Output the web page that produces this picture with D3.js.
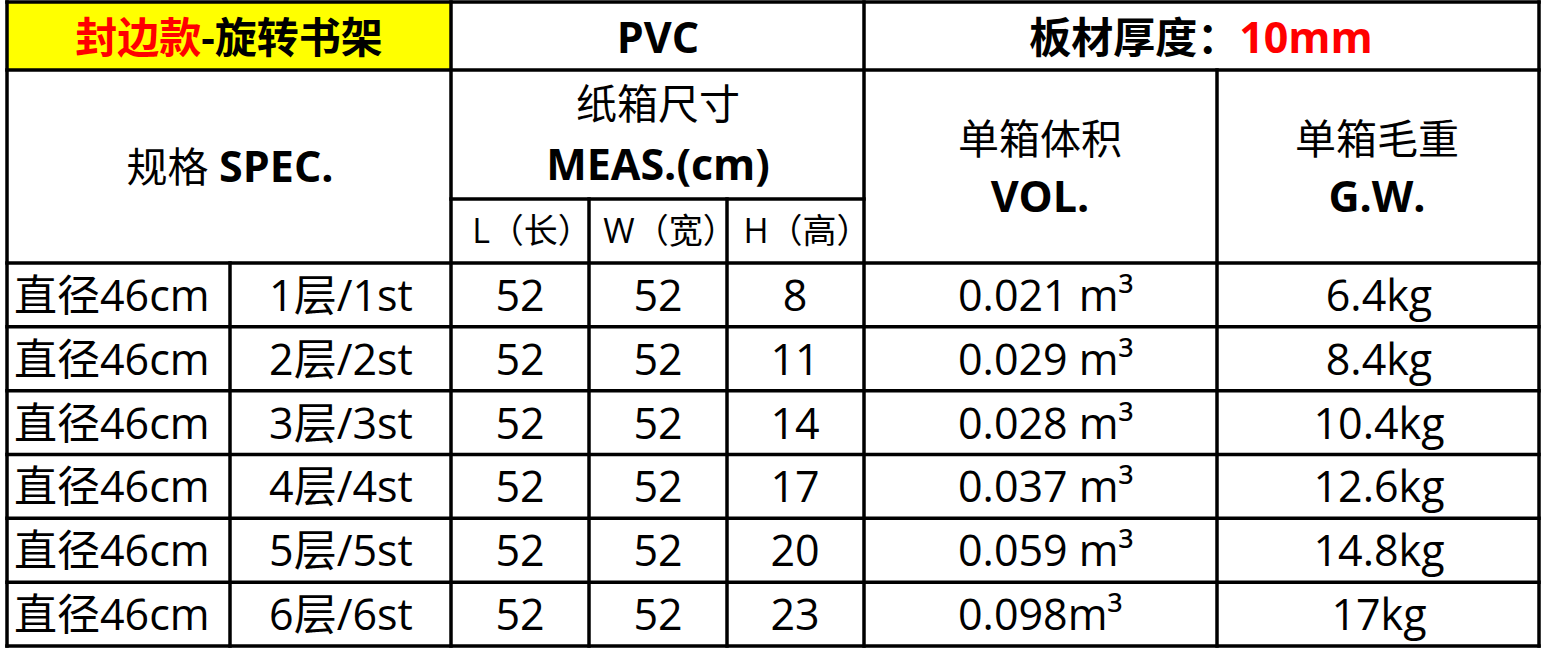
<!DOCTYPE html>
<html><head><meta charset="utf-8">
<script src="https://cdn.jsdelivr.net/npm/d3@7"></script>
<style>
body{margin:0;background:#fff}
svg{display:block}
text{font-family:"Open Sans","Noto Sans CJK SC",sans-serif;fill:#000}
</style>
</head><body><script>
// ---- data ----
const specs   = ["直径46cm","直径46cm","直径46cm","直径46cm","直径46cm","直径46cm"];
const tiers   = ["1层/1st","2层/2st","3层/3st","4层/4st","5层/5st","6层/6st"];
const lengths = [52,52,52,52,52,52];
const widths  = [52,52,52,52,52,52];
const heights = [8,11,14,17,20,23];
const volumes = ["0.021 m³","0.029 m³","0.028 m³","0.037 m³","0.059 m³","0.098m³"];
const weights = ["6.4kg","8.4kg","10.4kg","12.6kg","14.8kg","17kg"];
const subHeads = ["L（长）","W（宽）","H（高）"];

// ---- layout ----
const SW = 1541, SH = 649;
const svg = d3.select("body").append("svg").attr("width", SW).attr("height", SH);

const gLeft = 7, gRight = 1539, gTop = 2, hdr1 = 70, hdr2 = 199, bodyTop = 263, gBottom = 646;
const y = d3.scaleBand().domain(d3.range(specs.length)).range([bodyTop, gBottom]);
const colKeys = ["spec","tier","L","W","H","vol","gw"];
const xCenter = d3.scaleOrdinal().domain(colKeys).range([119, 341, 520, 658, 795, 1040, 1379]);
const edges = {a:gLeft, b:230, c:451, d:589, e:727, f:864, g:1217, h:gRight};

// yellow cell
svg.append("rect").attr("x", gLeft).attr("y", gTop).attr("width", edges.c - gLeft).attr("height", hdr1 - gTop).attr("fill", "#ffff00");

// header texts
function addText(x, yb, parts, anchor) {
  const t = svg.append("text").attr("x", x).attr("y", yb).attr("text-anchor", anchor || "middle");
  parts.forEach(p => {
    t.append("tspan").text(p.t)
      .attr("font-size", p.s)
      .attr("font-weight", p.b ? 700 : 400)
      .style("fill", p.c || "#000");
  });
  return t;
}
addText(229, 53, [{t:"封边款", s:42, b:1, c:"#ff0000"}, {t:"-旋转书架", s:42, b:1}]);
addText(658, 53, [{t:"PVC", s:43, b:1}]);
addText(1201, 53, [{t:"板材厚度：", s:42, b:1}, {t:"10mm", s:43, b:1, c:"#ff0000"}]);
addText(230, 182, [{t:"规格 ", s:41}, {t:"SPEC.", s:43, b:1}]);
addText(658, 119, [{t:"纸箱尺寸", s:41}]);
addText(658, 180, [{t:"MEAS.(cm)", s:43, b:1}]);
addText(1040, 154, [{t:"单箱体积", s:41}]);
addText(1040, 212, [{t:"VOL.", s:43, b:1}]);
addText(1377, 154, [{t:"单箱毛重", s:41}]);
addText(1377, 212, [{t:"G.W.", s:43, b:1}]);
subHeads.forEach((s, i) => addText(xCenter(["L","W","H"][i]) + 12, 243, [{t:s, s:34}]));

// body rows
const rows = d3.range(specs.length).map(i => ({
  i, spec: specs[i], tier: tiers[i], L: lengths[i], W: widths[i], H: heights[i], vol: volumes[i], gw: weights[i]
}));
const g = svg.append("g").selectAll("g").data(rows).join("g")
  .attr("transform", d => `translate(0,${y(d.i) + y.bandwidth()/2 + 16})`);
g.append("text").attr("x", 14).attr("text-anchor", "start").attr("font-size", 43).text(d => d.spec);
["tier","L","W","H","gw"].forEach(k => {
  g.append("text").attr("x", xCenter(k)).attr("text-anchor", "middle").attr("font-size", 43).text(d => d[k]);
});
g.append("text").attr("x", 958).attr("text-anchor", "start").attr("font-size", 43).text(d => d.vol);

// grid lines
const hLines = [[gLeft, gRight, gTop], [gLeft, gRight, hdr1], [edges.c, edges.f, hdr2], [gLeft, gRight, bodyTop]]
  .concat(rows.map(d => [gLeft, gRight, y(d.i) + y.bandwidth()]));
const vLines = [[gLeft, gTop, gBottom], [edges.c, gTop, gBottom], [edges.f, gTop, gBottom], [gRight, gTop, gBottom],
  [edges.b, bodyTop, gBottom], [edges.d, hdr2, gBottom], [edges.e, hdr2, gBottom], [edges.g, hdr1, gBottom]];
const lg = svg.append("g").attr("stroke", "#000").attr("stroke-width", 3.5).attr("stroke-linecap", "square");
lg.selectAll(".h").data(hLines).join("line").attr("x1", d => d[0]).attr("x2", d => d[1]).attr("y1", d => d[2]).attr("y2", d => d[2]);
lg.selectAll(".v").data(vLines).join("line").attr("x1", d => d[0]).attr("x2", d => d[0]).attr("y1", d => d[1]).attr("y2", d => d[2]);
</script></body></html>
